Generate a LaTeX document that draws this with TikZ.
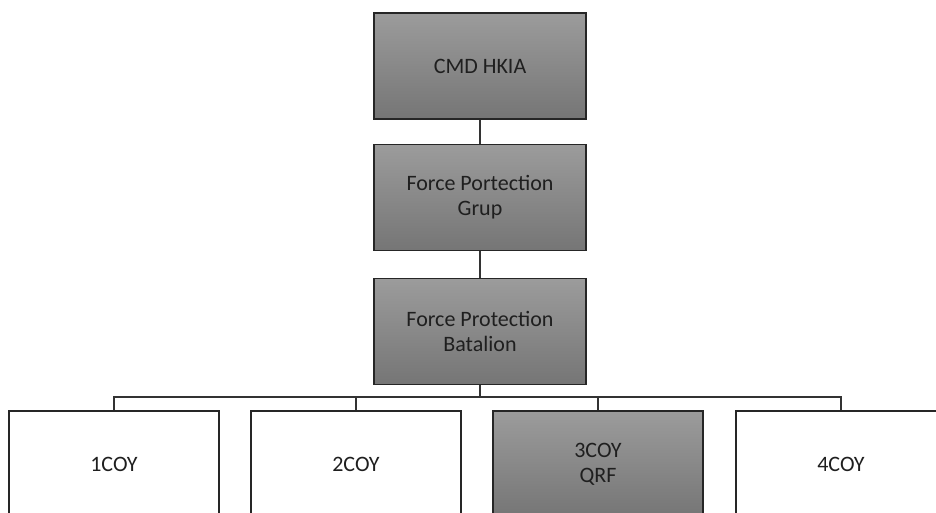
\documentclass[tikz,border=0pt]{standalone}
\usepackage{fontspec}
\setmainfont{Carlito}
\begin{document}
\begin{tikzpicture}[x=1pt,y=1pt,
  orgbox/.style={draw=black!85, line width=1.4pt, rectangle, minimum width=212pt, minimum height=106pt,
    inner sep=0pt, align=center, font=\fontsize{22}{25}\selectfont, text=black!88},
  grayfill/.style={top color=black!39, bottom color=black!54},
  whitefill/.style={fill=white, minimum width=210pt},
  link/.style={draw=black!80, line width=1.4pt}]
\useasboundingbox (0,0) rectangle (936,512);
\node[orgbox,grayfill] (a) at (480,446) {CMD HKIA};
\node[orgbox,grayfill] (b) at (480,314.5) {Force Portection\\Grup};
\node[orgbox,grayfill] (c) at (480,180.5) {Force Protection\\Batalion};
\node[orgbox,whitefill] (d1) at (114,48) {1COY};
\node[orgbox,whitefill] (d2) at (356,48) {2COY};
\node[orgbox,grayfill,minimum width=210pt] (d3) at (598,48) {3COY\\QRF};
\node[orgbox,whitefill] (d4) at (841,48) {4COY};
\coordinate (bus) at (480,115);
\draw[link] (a) -- (b);
\draw[link] (b) -- (c);
\draw[link] (c.south) -- (bus);
\draw[link] (d1.north) |- (bus) -| (d4.north);
\draw[link] (d2.north) -- (d2.north |- bus);
\draw[link] (d3.north) -- (d3.north |- bus);
\end{tikzpicture}
\end{document}
